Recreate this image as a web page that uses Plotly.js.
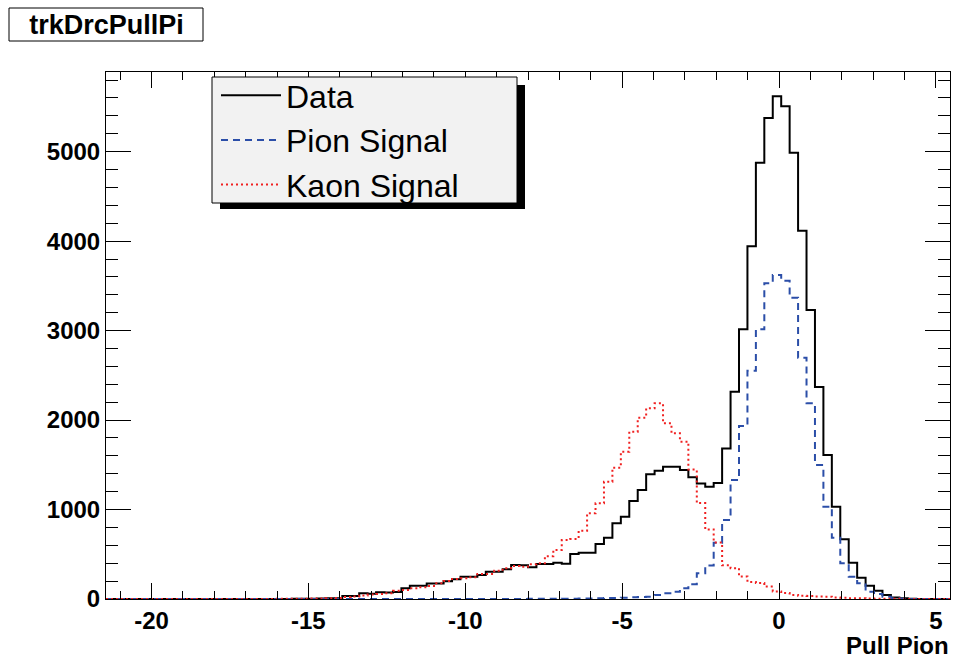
<!DOCTYPE html>
<html>
<head>
<meta charset="utf-8">
<script src="https://cdn.plot.ly/plotly-3.0.1.min.js"></script>
<style>html,body{margin:0;padding:0;background:#fff;}#chart{width:956px;height:660px;}</style>
</head>
<body>
<div id="chart"></div>
<script>
// Histogram binning (100 bins)
const xMin = -21.45;
const binWidth = 0.269;

// Series values (counts per bin)
const dataCounts = [
  0,0,0,0,0,0,0,0,0,0,
  0,0,0,0,0,0,0,0,0,0,
  0,1,2,3,4,5,8,8,34,34,
  63,58,76,74,78,119,149,149,172,172,
  198,222,250,250,268,305,305,332,380,378,
  355,391,390,406,395,503,518,518,615,685,
  846,920,1095,1218,1394,1434,1479,1479,1442,1360,
  1291,1254,1297,1682,2317,3014,3942,4877,5376,5619,
  5507,4988,4116,3230,2370,1609,1032,667,405,238,
  149,93,45,18,8,3,1,0,0,0
];
const pionCounts = [
  0,0,0,0,0,0,0,0,0,0,
  0,0,0,0,0,0,0,0,0,0,
  0,0,0,0,0,0,0,0,0,0,
  0,0,0,0,0,0,0,0,0,0,
  0,0,0,0,0,0,0,0,0,0,
  2,2,3,3,4,4,5,6,8,10,
  12,15,19,22,25,45,63,82,120,165,
  287,375,630,883,1330,1934,2552,3014,3529,3621,
  3558,3368,2697,2188,1498,1032,685,399,249,175,
  82,56,24,8,3,1,0,0,0,0
];
const kaonCounts = [
  0,0,0,0,0,0,0,0,1,1,
  1,1,1,1,1,1,1,1,1,1,
  2,2,3,4,5,6,8,12,22,28,
  40,50,56,63,93,101,119,130,145,175,
  201,224,231,242,279,279,316,343,369,361,
  388,399,478,548,659,671,763,958,1070,1311,
  1468,1646,1870,2026,2131,2187,1964,1852,1758,1446,
  1072,777,632,376,345,252,190,178,140,85,
  66,46,35,34,27,25,16,14,9,8,
  6,4,3,2,1,0,0,0,0,0
];

const seriesNames = ['Data', 'Pion Signal', 'Kaon Signal'];
const xTickVals = [-20, -15, -10, -5, 0, 5];
const xTickText = ['-20', '-15', '-10', '-5', '0', '5'];
const yTickVals = [0, 1000, 2000, 3000, 4000, 5000];
const yTickText = ['0', '1000', '2000', '3000', '4000', '5000'];

function stepXY(counts) {
  const xs = [], ys = [];
  for (let i = 0; i < counts.length; i++) {
    xs.push(xMin + i * binWidth);
    ys.push(counts[i]);
  }
  xs.push(xMin + counts.length * binWidth);
  ys.push(counts[counts.length - 1]);
  return {x: xs, y: ys};
}

const FONT = 'Liberation Sans, Arial, Helvetica, sans-serif';
const d = stepXY(dataCounts), p = stepXY(pionCounts), k = stepXY(kaonCounts);

const traces = [
  {x: d.x, y: d.y, type: 'scatter', mode: 'lines', name: seriesNames[0],
   line: {shape: 'hv', color: '#000000', width: 2}},
  {x: p.x, y: p.y, type: 'scatter', mode: 'lines', name: seriesNames[1],
   line: {shape: 'hv', color: '#2b4ea8', width: 2, dash: '7px,5px'}},
  {x: k.x, y: k.y, type: 'scatter', mode: 'lines', name: seriesNames[2],
   line: {shape: 'hv', color: '#f02020', width: 2, dash: '2px,3px'}}
];

// plot frame in pixels: left 106, right 950, top 72, bottom 599
const L = 106, R = 950, T = 72, B = 599;
const W = R - L, H = B - T;
const px = v => (v - L) / W;
const py = v => (B - v) / H;

const layout = {
  width: 956, height: 660,
  margin: {l: L, r: 956 - R, t: T, b: 660 - B, pad: 0},
  paper_bgcolor: '#ffffff', plot_bgcolor: '#ffffff',
  showlegend: true,
  title: {text: 'trkDrcPullPi', font: {family: FONT, size: 27, weight: 'bold', color: '#000'},
          xref: 'container', yref: 'container', x: 106.5 / 956, xanchor: 'center',
          y: 1 - 25 / 660, yanchor: 'middle'},
  xaxis: {
    range: [xMin, xMin + 100 * binWidth], tickmode: 'array', tickvals: xTickVals, ticktext: xTickText,
    ticks: 'inside', ticklen: 16, tickwidth: 1, tickcolor: '#000',
    showline: true, linecolor: '#000', linewidth: 1, mirror: 'ticks',
    showgrid: false, zeroline: false,
    tickfont: {family: FONT, size: 24, weight: 'bold', color: '#000'},
    minor: {tick0: 0, dtick: 1, ticks: 'inside', ticklen: 8, tickwidth: 1, tickcolor: '#000', showgrid: false}
  },
  yaxis: {
    range: [0, 5890], tickmode: 'array', tickvals: yTickVals, ticktext: yTickText,
    ticks: 'inside', ticklen: 25, tickwidth: 1, tickcolor: '#000',
    showline: true, linecolor: '#000', linewidth: 1, mirror: 'ticks',
    showgrid: false, zeroline: false,
    tickfont: {family: FONT, size: 24, weight: 'bold', color: '#000'},
    minor: {tick0: 0, dtick: 200, ticks: 'inside', ticklen: 12, tickwidth: 1, tickcolor: '#000', showgrid: false}
  },
  legend: {
    x: px(216), y: py(68), xanchor: 'left', yanchor: 'top',
    bgcolor: 'rgba(0,0,0,0)', borderwidth: 0,
    font: {family: FONT, size: 32, color: '#000'},
    itemwidth: 60, tracegroupgap: 0
  },
  shapes: [
    {type: 'rect', xref: 'paper', yref: 'paper', x0: px(220), x1: px(525), y0: py(209), y1: py(85),
     fillcolor: '#000', line: {width: 0}, layer: 'above'},
    {type: 'rect', xref: 'paper', yref: 'paper', x0: px(212), x1: px(517), y0: py(203), y1: py(77),
     fillcolor: '#f2f2f2', line: {color: '#000', width: 1}, layer: 'above'},
    {type: 'rect', xref: 'paper', yref: 'paper', x0: px(9), x1: px(203), y0: py(41), y1: py(8),
     fillcolor: 'rgba(0,0,0,0)', line: {color: '#000', width: 1}}
  ],
  annotations: [
    {text: 'Pull Pion', xref: 'paper', yref: 'paper', x: 1, xanchor: 'right', y: py(645), yanchor: 'middle',
     showarrow: false, borderpad: 0, font: {family: FONT, size: 24, weight: 'bold', color: '#000'}}
  ]
};

Plotly.newPlot('chart', traces, layout, {staticPlot: true, displayModeBar: false});
</script>
</body>
</html>
